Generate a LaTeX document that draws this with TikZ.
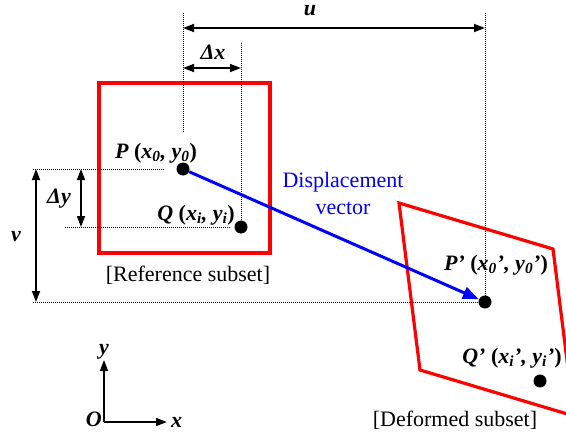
\documentclass[tikz,border=0pt]{standalone}
\usepackage{fontspec}
\setmainfont{Liberation Serif}
\usetikzlibrary{arrows.meta,positioning}
\newcommand{\pp}[1]{{\upshape(}#1{\upshape)}}

\begin{document}
\begin{tikzpicture}[x=1pt,y=-1pt,>={Stealth[inset=0pt,length=11pt,width=8pt]},font=\fontsize{22}{27}\selectfont,
  dot/.style={circle,fill=black,inner sep=0pt,minimum size=13pt},
  lbl/.style={font=\fontsize{22}{27}\selectfont\bfseries\itshape,inner sep=1pt},
  guide/.style={line width=1pt,dash pattern=on 1pt off 1pt},
  dim/.style={<->,line width=1.5pt},
  subset/.style={red,line width=3.2pt}]
\useasboundingbox (0,0) rectangle (566,434);
% subsets
\draw[subset] (99,83) rectangle (270,253);
\draw[subset] (399,203) -- (553,249) -- (574,416) -- (420,370) -- cycle;
\node (refsub) at (188,275) {[Reference subset]};
\node (defsub) at (455,420) {[Deformed subset]};
% points
\node[dot] (P) at (183,169) {};
\node[dot] (Q) at (241,227) {};
\node[dot] (Pd) at (485,302) {};
\node[dot] (Qd) at (540,381) {};
\node[lbl] (Plab) at (156,153) {P \pp{x\textsubscript{0}, y\textsubscript{0}}};
\node[lbl] (Qlab) at (196,215) {Q \pp{x\textsubscript{i}, y\textsubscript{i}}};
\node[lbl] (Pdlab) at (496,265) {P' \pp{x\textsubscript{0}', y\textsubscript{0}'}};
\node[lbl] (Qdlab) at (512,358) {Q' \pp{x\textsubscript{i}', y\textsubscript{i}'}};
% guide lines
\coordinate (gP) at (183,13);
\coordinate (gQ) at (241,43);
\coordinate (gPd) at (485,13);
\coordinate (hP) at (33,169);
\coordinate (hQ) at (65,227);
\coordinate (hPd) at (33,302);
\draw[guide] (gP) -- (183,132);
\draw[guide] (gQ) -- (Q);
\draw[guide] (gPd) -- (Pd);
\draw[guide] (hP) -- (165,169);
\draw[guide] (hQ) -- (230,227);
\draw[guide] (hPd) -- (Pd);
% dimensions
\draw[dim] (183,28) -- (485,28);
\node[lbl] (u) at (310,11) {u};
\draw[dim] (183,68) -- (241,68);
\node[lbl] (dx) at (213,52) {Δx};
\draw[dim] (81,169) -- (81,227);
\node[lbl] (dy) at (59,199) {Δy};
\draw[dim] (36,169) -- (36,302);
\node[lbl] (v) at (16,237) {v};
% displacement vector
\draw[->,blue,line width=3pt,>={Stealth[inset=0pt,length=16pt,width=12pt]}] (P) -- (Pd);
\node[blue,align=center] (disp) at (343,193) {Displacement\\vector};
% axes
\coordinate (O) at (104,422);
\coordinate (ytip) at (104,360);
\coordinate (xtip) at (167,422);
\draw[->,line width=1.5pt] (O) -- (ytip);
\draw[->,line width=1.5pt] (O) -- (xtip);
\node[lbl,above=0pt of ytip] (ylab) {y};
\node[lbl,right=3pt of xtip] (xlab) {x};
\node[lbl,left=1pt of O,yshift=3pt] (Olab) {O};
\end{tikzpicture}
\end{document}
